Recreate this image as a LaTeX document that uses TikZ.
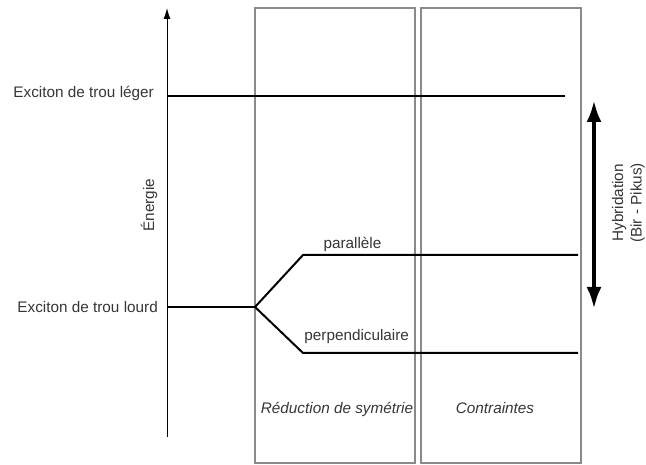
\documentclass[tikz,border=0pt]{standalone}
\usepackage{fontspec}
\setmainfont{Liberation Sans}
\usetikzlibrary{arrows.meta}
\definecolor{txt}{HTML}{363636}
\definecolor{boxgray}{HTML}{8A8A8A}
\begin{document}
\begin{tikzpicture}[x=1pt,y=-1pt,
  lbl/.style={text=txt,font=\fontsize{15.3}{18.5}\selectfont,inner sep=0pt},
  ilbl/.style={lbl,font=\fontsize{15.3}{18.5}\selectfont\itshape},
  panel/.style={draw=boxgray,line width=2pt,inner sep=0pt,minimum width=160pt,minimum height=455pt},
  level/.style={draw=black,line width=2pt},
  axis/.style={draw=black,line width=1pt,-{Latex[length=11pt,width=7pt]}},
  hyb/.style={draw=black,line width=4.2pt,{Latex[length=22pt,width=15pt]}-{Latex[length=22pt,width=15pt]}}]
\useasboundingbox (0,0) rectangle (646,465);
% panels
\node[panel] (red) at (335,235.5) {};
\node[panel] (con) at (501,235.5) {};
% axis
\coordinate (ax0) at (167,437);
\coordinate (ax1) at (167,8);
\draw[axis] (ax0) -- (ax1);
\node[lbl,rotate=90] (energie) at (149,205) {Énergie};
% light hole
\coordinate (lh0) at (167,96);
\coordinate (lh1) at (565,96);
\draw[level] (lh0) -- (lh1);
\node[lbl,anchor=base east] (lhl) at (154,98) {Exciton de trou léger};
% heavy hole
\coordinate (hh0) at (167,307);
\coordinate (hh1) at (255,307);
\coordinate (pa0) at (303,255);
\coordinate (pa1) at (578,255);
\coordinate (pe0) at (303,353);
\coordinate (pe1) at (578,353);
\draw[level] (hh0) -- (hh1);
\draw[level,line join=miter] (hh1) -- (pa0) -- (pa1);
\draw[level,line join=miter] (hh1) -- (pe0) -- (pe1);
\node[lbl,anchor=base east] (hhl) at (158,312.3) {Exciton de trou lourd};
\node[lbl,anchor=base] (par) at (352.5,248.3) {parallèle};
\node[lbl,anchor=base] (perp) at (356.7,341) {perpendiculaire};
% panel labels
\node[ilbl,anchor=base] (redl) at (337,413.5) {Réduction de symétrie};
\node[ilbl,anchor=base] (conl) at (495,413.5) {Contraintes};
% hybridation
\coordinate (hy0) at (594,100);
\coordinate (hy1) at (594,309);
\draw[hyb] (hy0) -- (hy1);
\node[lbl,rotate=90,align=center] (hyl) at (628.5,203) {Hybridation\\(Bir - Pikus)};
\end{tikzpicture}
\end{document}
